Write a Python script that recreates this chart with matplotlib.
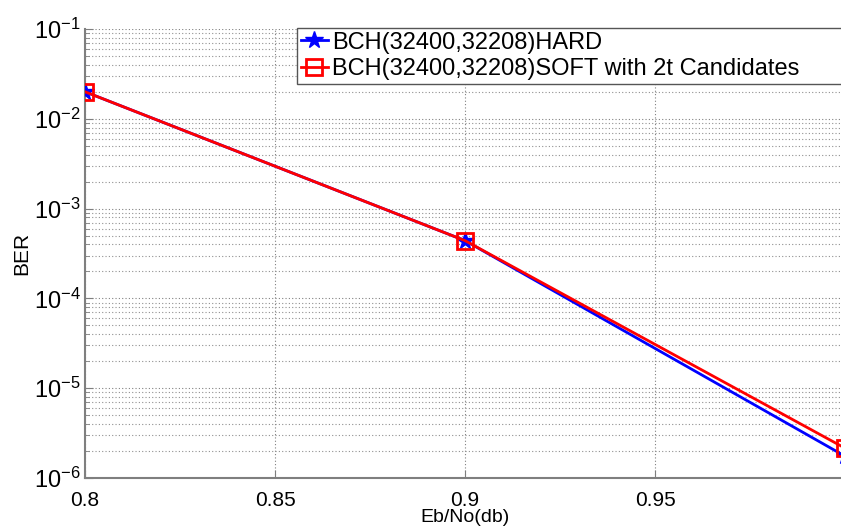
import matplotlib
matplotlib.use("Agg")
import matplotlib.pyplot as plt
from matplotlib.ticker import LogLocator, FixedLocator, FixedFormatter

plt.rcParams['font.family'] = ['Liberation Sans', 'DejaVu Sans']
plt.rcParams['mathtext.fontset'] = 'custom'
plt.rcParams['mathtext.rm'] = 'Liberation Sans'
plt.rcParams['mathtext.it'] = 'Liberation Sans:italic'
plt.rcParams['mathtext.bf'] = 'Liberation Sans:bold'

ebno = [0.8, 0.9, 1.0]
ber_hard = [2.0e-2, 4.4e-4, 1.75e-6]
ber_soft = [2.0e-2, 4.4e-4, 2.15e-6]
label_hard = 'BCH(32400,32208)HARD'
label_soft = 'BCH(32400,32208)SOFT with 2t Candidates'
xticks = [0.8, 0.85, 0.9, 0.95]
xticklabels = ['0.8', '0.85', '0.9', '0.95']

W, H = 841, 527
fig = plt.figure(figsize=(W / 100, H / 100), dpi=100)
ax = fig.add_axes([85 / W, (H - 478) / H, (845 - 85) / W, (478 - 29) / H])

ax.semilogy(ebno, ber_hard, color='#0000ff', lw=2, marker='*', ms=13,
            mfc='#0000ff', mec='#0000ff', label=label_hard, zorder=3)
ax.semilogy(ebno, ber_soft, color='#ff0000', lw=2, marker='s', ms=11,
            mfc='none', mec='#ff0000', mew=2, label=label_soft, zorder=4)

ax.set_xlim(0.8, 1.0)
ax.set_ylim(1e-6, 1e-1)
ax.xaxis.set_major_locator(FixedLocator(xticks))
ax.xaxis.set_major_formatter(FixedFormatter(xticklabels))
ax.yaxis.set_major_locator(LogLocator(base=10, numticks=10))
ax.yaxis.set_minor_locator(LogLocator(base=10, subs=range(2, 10), numticks=100))

ax.grid(True, which='major', axis='both', linestyle=(0, (1, 2)), color='#808080', lw=0.8)
ax.grid(True, which='minor', axis='y', linestyle=(0, (1, 2)), color='#909090', lw=0.8)

for s in ['top', 'right']:
    ax.spines[s].set_visible(False)
for s in ['left', 'bottom']:
    ax.spines[s].set_color('#7f7f7f')
    ax.spines[s].set_linewidth(1.5)

ax.tick_params(axis='both', which='both', direction='in', colors='#7f7f7f',
               labelcolor='black')
ax.tick_params(axis='x', labelsize=15)
ax.tick_params(axis='y', labelsize=17)
ax.tick_params(axis='x', which='major', length=6, pad=9)
ax.tick_params(axis='y', which='major', length=6, pad=3)
ax.tick_params(axis='y', which='minor', length=3)

ax.set_xlabel('Eb/No(db)', fontsize=14, labelpad=0)
ax.set_ylabel('BER', fontsize=15, labelpad=2)

leg = ax.legend(loc='upper left',
                bbox_to_anchor=(297 / W, (H - 86) / H, (880 - 297) / W, 58 / H),
                bbox_transform=fig.transFigure, mode='expand', fontsize=17,
                frameon=True, fancybox=False, handlelength=1.15, handletextpad=0.2,
                borderpad=0.15, labelspacing=0.2, borderaxespad=0.0)
leg.get_frame().set_edgecolor('#555555')
leg.get_frame().set_linewidth(1.0)
leg.get_frame().set_alpha(1.0)

fig.savefig('out.png', dpi=100)
